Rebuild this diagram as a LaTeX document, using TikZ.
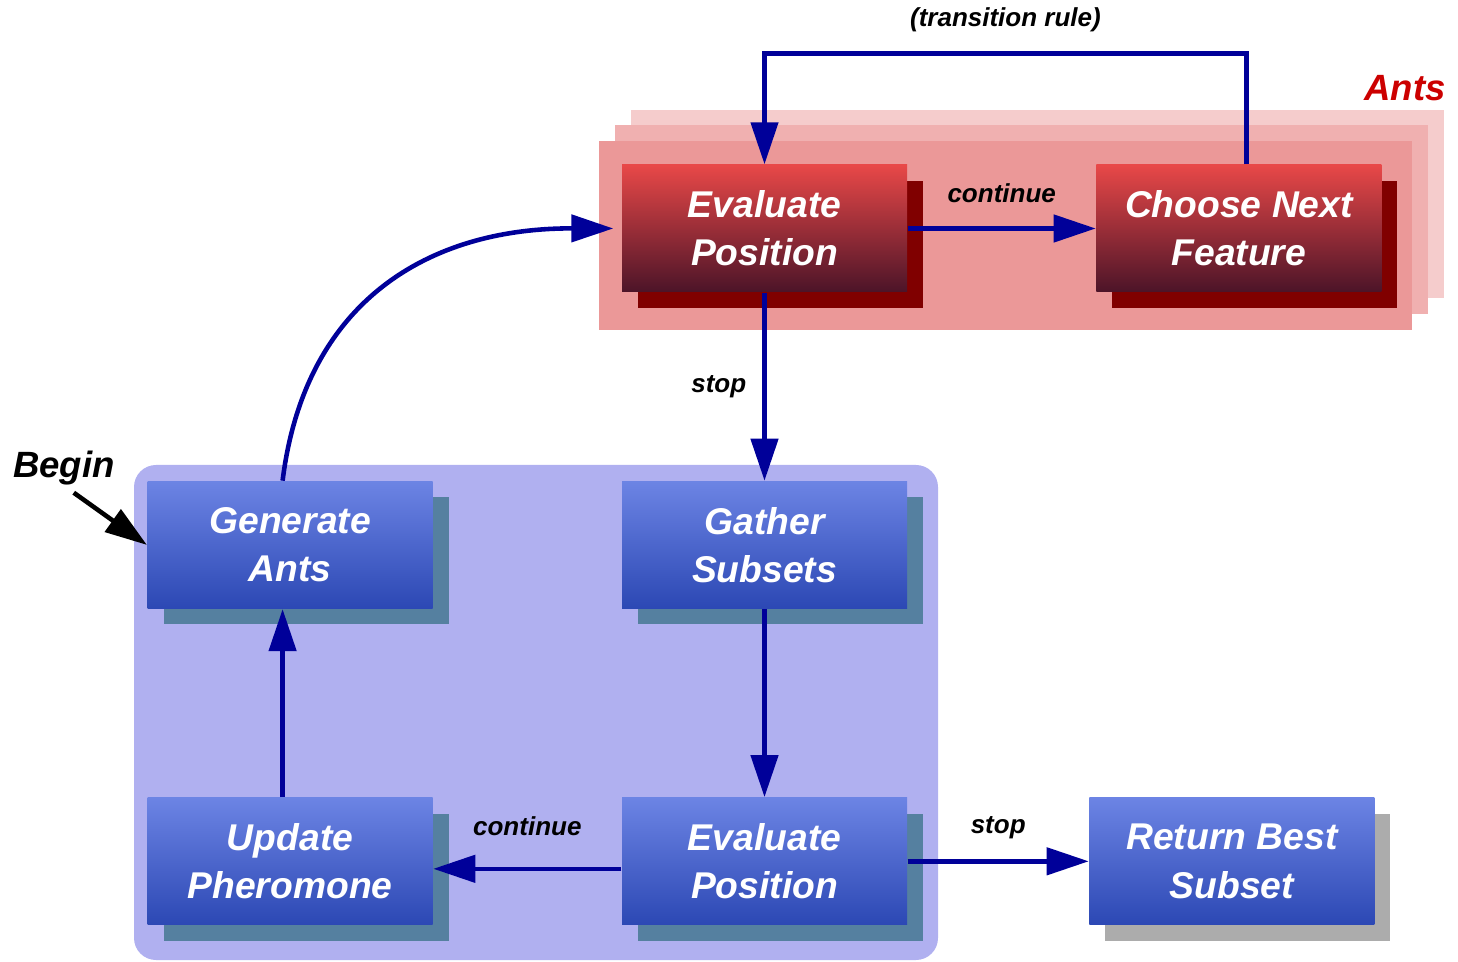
\documentclass[tikz,border=0pt]{standalone}
\usepackage{fontspec}
\setmainfont{Liberation Sans}
\usetikzlibrary{arrows.meta, positioning, shadows}

\definecolor{arrowblue}{HTML}{000099}
\definecolor{panelblue}{HTML}{B0B0F0}
\definecolor{antsback}{HTML}{F5CCCC}
\definecolor{antsmid}{HTML}{F0B0B0}
\definecolor{antsfront}{HTML}{EB9898}
\definecolor{shadowblue}{HTML}{5580A0}
\definecolor{shadowred}{HTML}{800000}
\definecolor{antsred}{HTML}{CC0000}
\definecolor{boxbluetop}{HTML}{6C84E4}
\definecolor{boxbluebot}{HTML}{2C48B4}
\definecolor{boxredtop}{HTML}{E84848}
\definecolor{boxredmid}{HTML}{A02838}
\definecolor{boxredbot}{HTML}{4C1428}

\begin{document}
\begin{tikzpicture}[
        box/.style={rectangle, inner sep=0pt, minimum width=2.85cm, minimum height=1.27cm, align=center,
            text=white, font=\bfseries\itshape\fontsize{10.6}{13.7}\selectfont},
        bluebox/.style={box, top color=boxbluetop, bottom color=boxbluebot,
            drop shadow={fill=shadowblue, opacity=1, shadow xshift=0.16cm, shadow yshift=-0.16cm}},
        redbox/.style={box, top color=boxredtop, middle color=boxredmid, bottom color=boxredbot,
            drop shadow={fill=shadowred, opacity=1, shadow xshift=0.16cm, shadow yshift=-0.16cm}},
        lbl/.style={inner sep=0pt, text=black, font=\bfseries\itshape\fontsize{7.4}{9}\selectfont},
        tag/.style={inner sep=0pt, font=\bfseries\itshape\fontsize{10.4}{12}\selectfont},
        arrow/.style={-{Triangle[length=0.42cm, width=0.27cm]}, line width=1.3pt, arrowblue},
        beginarrow/.style={-{Triangle[length=0.42cm, width=0.27cm]}, line width=1.3pt, black},
        node distance=1.88cm and 1.88cm
    ]
        \useasboundingbox (0,0) rectangle (14.58,-9.62);

        % Panels
        \fill[panelblue, rounded corners=0.22cm] (1.34,-4.65) rectangle (9.38,-9.60);
        \fill[antsback] (6.31,-1.10) rectangle (14.44,-2.98);
        \fill[antsmid] (6.15,-1.25) rectangle (14.28,-3.14);
        \fill[antsfront] (5.99,-1.41) rectangle (14.12,-3.30);
        \node[tag, text=antsred] (ants) at (14.05,-0.88) {Ants};

        % Boxes
        \node[redbox] (evaltop) at (7.645,-2.285) {Evaluate\\Position};
        \node[redbox, right=of evaltop] (choose) {Choose Next\\Feature};
        \node[bluebox, below=of evaltop] (gather) {Gather\\Subsets};
        \node[bluebox, below=of gather] (evalbot) {Evaluate\\Position};
        \node[bluebox, left=of gather] (generate) {Generate\\Ants};
        \node[bluebox, below=of generate] (update) {Update\\Pheromone};
        \node[bluebox, right=1.81cm of evalbot,
            drop shadow={fill=gray!65, opacity=1, shadow xshift=0.16cm, shadow yshift=-0.16cm}] (result) {Return Best\\Subset};
        \node[tag] (begin) at (0.64,-4.68) {Begin};

        % Arrows
        \draw[beginarrow, shorten <=0.12cm] (begin.south) -- (generate.west);
        \draw[arrow] ([xshift=-0.075cm]generate.north) .. controls (3.05,-3.0) and (4.3,-2.28) .. ([xshift=-0.08cm]evaltop.west);
        \draw[arrow] (evaltop.east) -- node[lbl, above=0.23cm] {continue} (choose.west);
        \draw[arrow] ([xshift=0.075cm]choose.north) -- ++(0,1.11)
            -| node[lbl, pos=0.25, above=0.19cm] {(transition rule)} (evaltop.north);
        \draw[arrow] (evaltop.south) -- node[lbl, left=0.16cm] {stop} (gather.north);
        \draw[arrow] (gather.south) -- (evalbot.north);
        \draw[arrow] ([yshift=-0.075cm]evalbot.west) -- node[lbl, above=0.31cm] {continue} ([yshift=-0.075cm]update.east);
        \draw[arrow] (evalbot.east) -- node[lbl, above=0.2cm] {stop} (result.west);
        \draw[arrow] ([xshift=-0.075cm]update.north) -- ([xshift=-0.075cm]generate.south);
    \end{tikzpicture}
\end{document}
